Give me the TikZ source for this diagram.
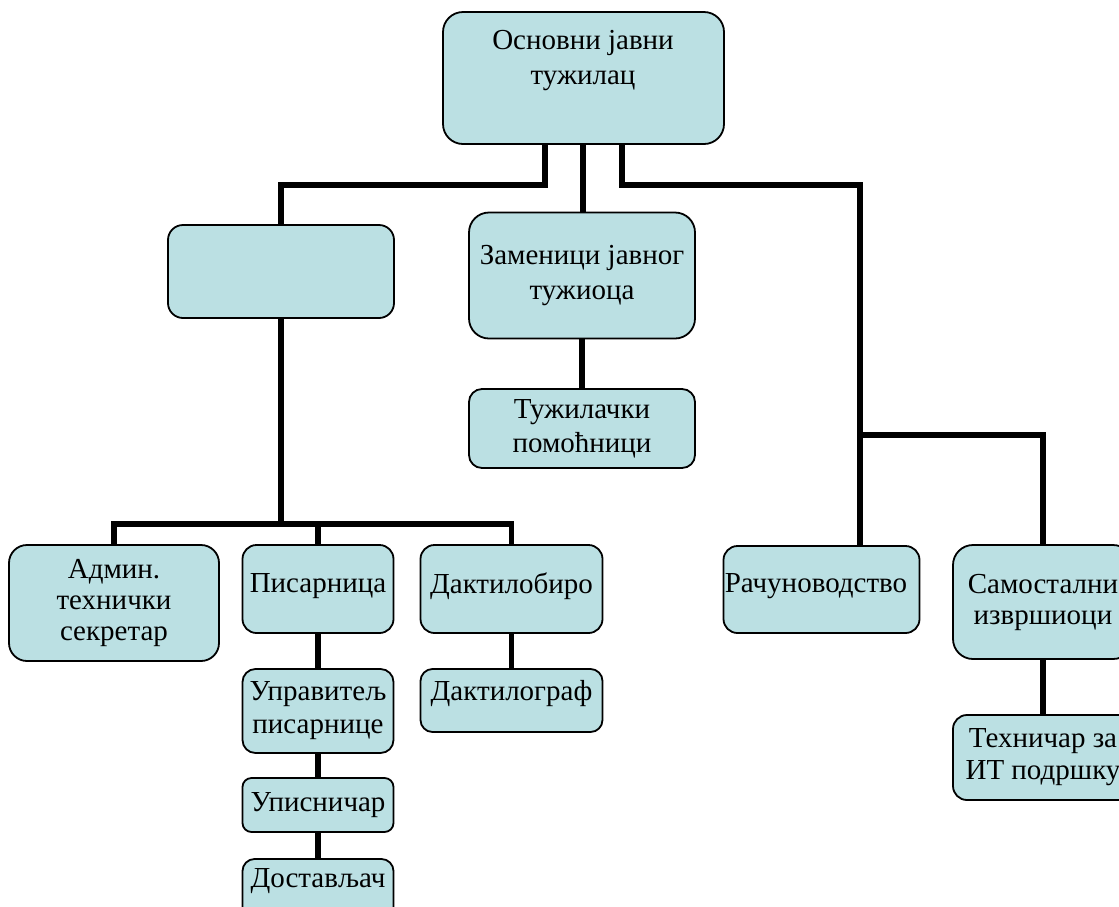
\documentclass[tikz,border=0pt]{standalone}
\usepackage{fontspec}
\setmainfont{Liberation Serif}
\usetikzlibrary{backgrounds}
\definecolor{boxblue}{HTML}{BBE0E3}
\begin{document}
\begin{tikzpicture}[x=1pt,y=-1pt,
  box/.style={draw=black, line width=1.8pt, fill=boxblue, inner sep=0pt,
    align=center, font=\fontsize{29}{32}\selectfont},
  txt/.style={inner sep=0pt, align=center, font=\fontsize{29}{32}\selectfont},
  ls/.style={font=\fontsize{29}{#1}\selectfont},
  conn/.style={draw=black, line width=5.5pt}]
\useasboundingbox (0,0) rectangle (1119,906);
\begin{scope}
\clip (0,0) rectangle (1119,906);
% boxes
\node[box, rounded corners=20pt, minimum width=281pt, minimum height=132pt] (top) at (583.5,78) {};
\node[txt, ls=35] (topt) at (583,61) {Основни јавни\\тужилац};
\node[box, rounded corners=15pt, minimum width=226pt, minimum height=93pt] (blank) at (281,271.5) {};
\node[box, ls=35, rounded corners=20pt, minimum width=226pt, minimum height=126pt] (zam) at (582,275.5) {Заменици јавног\\тужиоца};
\node[box, ls=34, rounded corners=13pt, minimum width=226pt, minimum height=79pt] (tuz) at (582,428.5) {Тужилачки\\помоћници};
\node[box, ls=31, rounded corners=18pt, minimum width=210pt, minimum height=116pt] (adm) at (114,603) {Админ.\\технички\\секретар};
\node[box, rounded corners=14pt, minimum width=151pt, minimum height=88pt] (pis) at (318,589) {};
\node[txt] (pist) at (318,586) {Писарница};
\node[box, rounded corners=14pt, minimum width=182pt, minimum height=88pt] (dak) at (511.5,589) {};
\node[txt] (dakt) at (511.5,586) {Дактилобиро};
\node[box, ls=33, rounded corners=13pt, minimum width=151pt, minimum height=84pt] (upr) at (318,711) {Управитељ\\писарнице};
\node[box, rounded corners=9pt, minimum width=151pt, minimum height=54pt] (ups) at (318,805) {Уписничар};
\node[box, rounded corners=12pt, minimum width=151pt, minimum height=90pt] (dos) at (318,904) {};
\node[txt] (dost) at (318,881) {Достављач};
\node[box, rounded corners=12pt, minimum width=182pt, minimum height=63pt] (dakg) at (511.5,700.5) {};
\node[txt] (dakgt) at (511.5,694) {Дактилограф};
\node[box, rounded corners=14pt, minimum width=196pt, minimum height=87pt] (rac) at (821.5,589.5) {};
\node[txt] (ract) at (816,586) {Рачуноводство};
\node[box, ls=31, rounded corners=20pt, minimum width=180pt, minimum height=114pt] (sam) at (1043,602) {Самостални\\извршиоци};
\node[box, rounded corners=14pt, minimum width=180pt, minimum height=85pt] (teh) at (1043,757.5) {Техничар за\\ИТ подршку};
% junctions
\coordinate (j1) at (545,185);
\coordinate (j2) at (583,185);
\coordinate (j3) at (622,185);
\coordinate (bus) at (281,524);
\coordinate (sp) at (860,435);
% connectors
\begin{pgfonlayer}{background}
\draw[conn] (top.south -| j1) -- (j1) -| (blank.north);
\draw[conn] (top.south -| j2) -- (zam.north -| j2);
\draw[conn] (top.south -| j3) -- (j3) -| (rac.north -| sp);
\draw[conn] (sp) -| (sam.north);
\draw[conn] (zam.south) -- (tuz.north);
\draw[conn] (blank.south) -- (bus);
\draw[conn] (adm.north) |- (dak.north |- bus) -- (dak.north);
\draw[conn] (pis.north |- bus) -- (pis.north);
\draw[conn] (pis.south) -- (upr.north);
\draw[conn] (upr.south) -- (ups.north);
\draw[conn] (ups.south) -- (dos.north);
\draw[conn] (dak.south) -- (dakg.north);
\draw[conn] (sam.south) -- (teh.north);
\end{pgfonlayer}
\end{scope}
\end{tikzpicture}
\end{document}
